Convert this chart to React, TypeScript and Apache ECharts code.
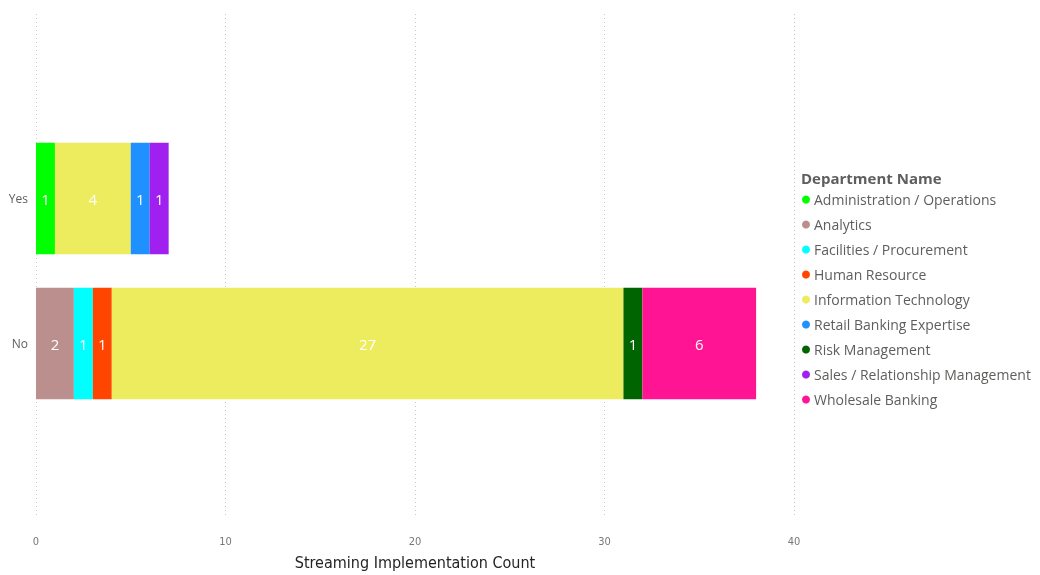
import React, { useEffect, useRef } from "react";
import * as echarts from "echarts";

const categories = ["No", "Yes"];
const departments = [
  "Administration / Operations",
  "Analytics",
  "Facilities / Procurement",
  "Human Resource",
  "Information Technology",
  "Retail Banking Expertise",
  "Risk Management",
  "Sales / Relationship Management",
  "Wholesale Banking",
];
// values per department: [No, Yes]
const admin = [null, 1];
const analytics = [2, null];
const facilities = [1, null];
const humanResource = [1, null];
const infoTech = [27, 4];
const retail = [null, 1];
const risk = [1, null];
const sales = [null, 1];
const wholesale = [6, null];
const seriesValues = [admin, analytics, facilities, humanResource, infoTech, retail, risk, sales, wholesale];
const colors = ["#00FF00", "#BC8F8F", "#00FFFF", "#FF4500", "#ECEC5E", "#1E90FF", "#006400", "#A020F0", "#FF1493"];
const xTicks = [0, 10, 20, 30, 40];

export default function App() {
  const ref = useRef<HTMLDivElement>(null);
  useEffect(() => {
    const chart = echarts.init(ref.current!, null, { renderer: "svg" });
    const font = "'Segoe UI', 'Open Sans', 'Noto Sans', sans-serif";
    const narrow = "'Liberation Sans Narrow', 'DejaVu Sans Condensed', Roboto, sans-serif";
    chart.setOption({
      animation: false,
      title: {
        text: "Department Name",
        left: 796,
        top: 165,
        textStyle: { fontFamily: font, fontSize: 15, fontWeight: "bold", color: "#605E5C" },
      },
      legend: {
        orient: "vertical",
        left: 797,
        top: 186,
        icon: "circle",
        itemWidth: 8,
        itemHeight: 8,
        itemGap: 8,
        textStyle: { fontFamily: font, fontSize: 14, lineHeight: 17, color: "#605E5C", padding: [0, 0, 0, -1] },
        data: departments,
      },
      grid: [
        { left: 36, right: 246, top: 14, height: 518, containLabel: false },
        { left: 36, right: 246, top: 126, height: 290, containLabel: false },
      ],
      xAxis: [
        {
          gridIndex: 0,
          type: "value",
          min: xTicks[0],
          max: xTicks[xTicks.length - 1],
          interval: 10,
          axisLine: { show: false },
          axisTick: { show: false },
          splitLine: { show: true, lineStyle: { type: [1, 3], color: "#C8C8C8", width: 1 } },
          axisLabel: { color: "#777777", fontSize: 11, margin: 20, fontFamily: narrow },
          name: "Streaming Implementation Count",
          nameLocation: "middle",
          nameGap: 38,
          nameTextStyle: { color: "#252423", fontSize: 16, fontFamily: narrow },
        },
        {
          gridIndex: 1,
          type: "value",
          min: 0,
          max: 40,
          show: false,
        },
      ],
      yAxis: [
        { gridIndex: 0, type: "category", data: categories, show: false },
        {
          gridIndex: 1,
          type: "category",
          data: categories,
          axisLine: { show: false },
          axisTick: { show: false },
          axisLabel: { color: "#605E5C", fontSize: 12, margin: 8, fontFamily: font },
        },
      ],
      series: departments.map((name, i) => ({
        name,
        type: "bar",
        stack: "total",
        xAxisIndex: 1,
        yAxisIndex: 1,
        barCategoryGap: "23%",
        itemStyle: { color: colors[i] },
        label: {
          show: true,
          position: "inside",
          color: "#FFFFFF",
          fontSize: 15,
          fontFamily: font,
        },
        data: seriesValues[i],
      })),
    });
    return () => chart.dispose();
  }, []);
  return <div ref={ref} style={{ position: "fixed", left: 0, top: 0, width: 1040, height: 575 }} />;
}
